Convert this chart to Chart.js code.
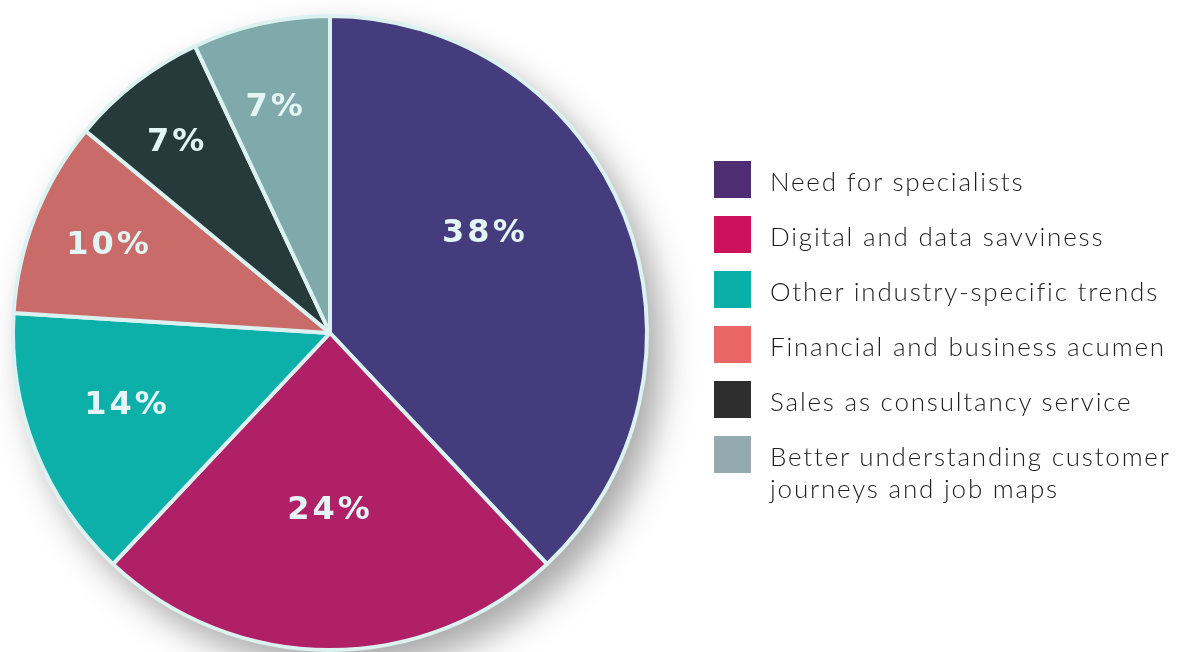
<!DOCTYPE html>
<html>
<head>
<meta charset="utf-8">
<script src="https://cdn.jsdelivr.net/npm/chart.js@4.4.1/dist/chart.umd.min.js"></script>
<style>
  html, body { margin: 0; padding: 0; background: #fff; overflow: hidden; }
  body { width: 1179px; height: 652px; position: relative; }
  #pieWrap { position: absolute; left: 0; top: 0; width: 720px; height: 700px; }
  #legend { position: absolute; left: 714px; top: 0; font-family: Lato, sans-serif; font-weight: 300; font-size: 26px; letter-spacing: 1.8px; color: #1f1f1f; }
  .item { position: absolute; left: 0; white-space: nowrap; }
  .swatch { position: absolute; left: 0; width: 37px; height: 37px; }
  .label { position: absolute; left: 56px; line-height: 32px; }
</style>
</head>
<body>
<div id="pieWrap"><canvas id="pieChart"></canvas></div>
<div id="legend"></div>
<script>
const categories = [
  'Need for specialists',
  'Digital and data savviness',
  'Other industry-specific trends',
  'Financial and business acumen',
  'Sales as consultancy service',
  ['Better understanding customer', 'journeys and job maps']
];
const shares = [38, 24, 14, 10, 7, 7];
const sliceColors = ['#443c7d', '#b02066', '#0cb0a9', '#c96b69', '#263a3b', '#7fa9ab'];
const legendColors = ['#4f2d73', '#cc125c', '#0ab0a8', '#e86666', '#2e2e2e', '#93aaae'];

// label placement inside each slice: fraction of radius and angle nudge (deg)
const labelDist = [0.58, 0.56, 0.68, 0.75, 0.77, 0.73];
const labelNudge = [-11, 0, 2, 0, -1, -1];

// soft drop shadow behind the whole pie
const pieShadow = {
  id: 'pieShadow',
  beforeDatasetsDraw(chart) {
    const arc = chart.getDatasetMeta(0).data[0];
    if (!arc) return;
    const ctx = chart.ctx;
    ctx.save();
    ctx.shadowColor = 'rgba(0,0,0,0.34)';
    ctx.shadowBlur = 34;
    ctx.shadowOffsetX = 14;
    ctx.shadowOffsetY = 18;
    ctx.fillStyle = '#dcf2f1';
    ctx.beginPath();
    ctx.arc(arc.x, arc.y, arc.outerRadius + 1, 0, Math.PI * 2);
    ctx.fill();
    ctx.restore();
  }
};

// percentage text on each slice
const sliceLabels = {
  id: 'sliceLabels',
  afterDatasetsDraw(chart) {
    const ctx = chart.ctx;
    const meta = chart.getDatasetMeta(0);
    ctx.save();
    ctx.fillStyle = '#e3f5f4';
    ctx.font = 'bold 32px "DejaVu Sans", sans-serif';
    if ('letterSpacing' in ctx) ctx.letterSpacing = '3px';
    ctx.textAlign = 'center';
    ctx.textBaseline = 'middle';
    meta.data.forEach((arc, i) => {
      const mid = (arc.startAngle + arc.endAngle) / 2 + labelNudge[i] * Math.PI / 180;
      const r = arc.outerRadius * labelDist[i];
      ctx.fillText(shares[i] + '%', arc.x + Math.cos(mid) * r, arc.y + Math.sin(mid) * r);
    });
    ctx.restore();
  }
};

new Chart(document.getElementById('pieChart'), {
  type: 'pie',
  data: {
    labels: categories,
    datasets: [{
      data: shares,
      backgroundColor: sliceColors,
      borderColor: '#dcf2f1',
      borderWidth: 4
    }]
  },
  options: {
    responsive: true,
    maintainAspectRatio: false,
    animation: false,
    // pie area 660x638 centred at (330, 333); extra room right/below for the shadow
    layout: { padding: { top: 14, right: 60, bottom: 48 } },
    plugins: {
      legend: { display: false },
      tooltip: { enabled: false }
    }
  },
  plugins: [pieShadow, sliceLabels]
});

// legend on the right
const legendEl = document.getElementById('legend');
categories.forEach((name, i) => {
  const top = 161 + i * 55;
  const item = document.createElement('div');
  item.className = 'item';
  item.style.top = top + 'px';
  const sw = document.createElement('div');
  sw.className = 'swatch';
  sw.style.background = legendColors[i];
  const lab = document.createElement('div');
  lab.className = 'label';
  lab.style.top = '4px';
  lab.innerHTML = [].concat(name).join('<br>');
  item.appendChild(sw);
  item.appendChild(lab);
  legendEl.appendChild(item);
});
</script>
</body>
</html>
